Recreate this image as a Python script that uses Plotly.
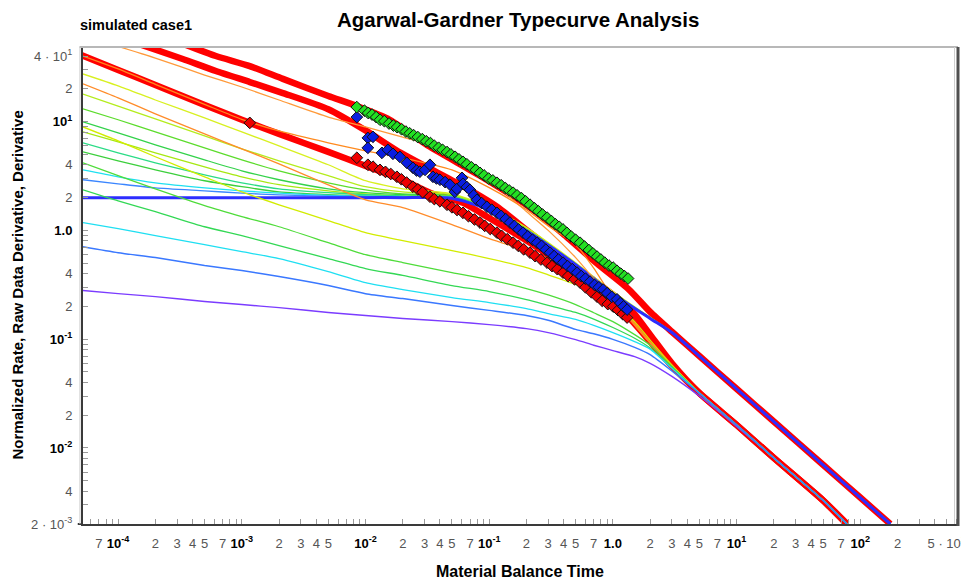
import math
import plotly.graph_objects as go

# ---------------- type-curve family 1 (rate curves, converge to lower harmonic line) -------------
t_f1 = [5.2e-5, 1e-4, 2e-4, 5e-4, 1e-3, 2e-3, 5e-3, 1e-2, 2e-2, 5e-2, 0.1, 0.2, 0.3, 0.5, 0.7, 1, 1.5, 2, 3, 5, 10, 20, 50, 78]
f1_purple = [0.280, 0.262, 0.246, 0.222, 0.208, 0.195, 0.176, 0.165, 0.155, 0.145, 0.136, 0.125, 0.115, 0.099, 0.088, 0.0785, 0.069, 0.060, 0.0455, 0.030, 0.0158, 0.0081, 0.0033, 0.002]
f1_blue = [0.708, 0.624, 0.562, 0.475, 0.427, 0.376, 0.311, 0.262, 0.236, 0.204, 0.184, 0.165, 0.149, 0.123, 0.112, 0.0995, 0.084, 0.072, 0.051, 0.0318, 0.0163, 0.0081, 0.0033, 0.002]
f1_cyan = [1.18, 1.04, 0.895, 0.74, 0.638, 0.551, 0.418, 0.331, 0.286, 0.241, 0.217, 0.191, 0.172, 0.152, 0.134, 0.115, 0.095, 0.081, 0.054, 0.032, 0.0163, 0.0081, 0.0033, 0.002]
f1_green2 = [2.36, 1.87, 1.49, 1.08, 0.895, 0.724, 0.551, 0.446, 0.385, 0.311, 0.274, 0.231, 0.205, 0.176, 0.153, 0.128, 0.102, 0.083, 0.055, 0.032, 0.0163, 0.0081, 0.0033, 0.002]
f1_green = [4.18, 3.18, 2.41, 1.69, 1.34, 1.08, 0.771, 0.598, 0.506, 0.409, 0.353, 0.292, 0.255, 0.208, 0.175, 0.145, 0.110, 0.088, 0.056, 0.032, 0.0163, 0.0081, 0.0033, 0.002]
f1_yellow = [8.93, 6.65, 4.75, 3.11, 2.26, 1.72, 1.23, 0.953, 0.805, 0.652, 0.551, 0.455, 0.39, 0.318, 0.265, 0.217, 0.145, 0.098, 0.058, 0.032, 0.0163, 0.0081, 0.0033, 0.002]
f1_orange = [22.2, 16.5, 11.8, 7.71, 5.62, 4.09, 2.62, 1.91, 1.62, 1.13, 0.839, 0.652, 0.55, 0.418, 0.33, 0.231, 0.14, 0.094, 0.057, 0.032, 0.0163, 0.0081, 0.0033, 0.002]
f1_orange_a = [40.1, 30.5, 22.0, 14.4, 10.5, 8.2, 6.38, 5.39, 4.65, 3.6, 2.47, 1.55, 1.1, 0.74, 0.45, 0.24, 0.135, 0.093, 0.057, 0.032, 0.0163, 0.0081, 0.0033, 0.002]
t_f1_top = [9.0e-5, 2e-4, 5e-4, 1e-3, 2e-3, 5e-3, 1e-2, 2e-2, 5e-2, 0.1, 0.2, 0.3, 0.5, 0.7, 1, 1.5, 2, 3, 5, 10, 20, 50, 78]
f1_orange_top = [51, 38.4, 26.8, 20.8, 15.8, 11.0, 8.93, 7.2, 5.27, 2.92, 1.49, 1.0, 0.562, 0.36, 0.225, 0.135, 0.092, 0.057, 0.032, 0.0163, 0.0081, 0.0033, 0.002]

# ---------------- type-curve family 2 (converge to 2, then to upper line) -------------
t_f2 = [5.2e-5, 1e-4, 2e-4, 5e-4, 1e-3, 2e-3, 5e-3, 1e-2, 2e-2, 5e-2, 0.1, 0.2, 0.5, 1, 2, 3, 5, 10, 20, 50, 100, 175]
f2_yellow = [27.4, 21.3, 15.8, 10.8, 8.04, 5.98, 4.01, 2.86, 2.41, 2.17, 1.65, 1.06, 0.505, 0.274, 0.158, 0.116, 0.070, 0.035, 0.0175, 0.007, 0.0035, 0.002]
f2_yellowgreen = [17.9, 13.9, 10.6, 7.39, 5.62, 4.36, 3.18, 2.52, 2.26, 2.13, 1.62, 1.04, 0.495, 0.268, 0.158, 0.116, 0.070, 0.035, 0.0175, 0.007, 0.0035, 0.002]
f2_green = [13.1, 10.4, 8.04, 5.74, 4.45, 3.53, 2.74, 2.36, 2.17, 2.08, 1.58, 1.02, 0.49, 0.266, 0.157, 0.116, 0.070, 0.035, 0.0175, 0.007, 0.0035, 0.002]
f2_green_b = [9.94, 7.88, 6.11, 4.45, 3.53, 2.92, 2.41, 2.22, 2.13, 2.06, 1.57, 1.01, 0.49, 0.265, 0.156, 0.116, 0.070, 0.035, 0.0175, 0.007, 0.0035, 0.002]
f2_lime = [8.04, 6.51, 5.16, 3.84, 3.11, 2.63, 2.31, 2.17, 2.08, 2.05, 1.57, 1.01, 0.488, 0.264, 0.156, 0.116, 0.070, 0.035, 0.0175, 0.007, 0.0035, 0.002]
f2_teal = [6.38, 5.16, 4.18, 3.24, 2.74, 2.41, 2.22, 2.13, 2.07, 2.04, 1.56, 1.0, 0.487, 0.263, 0.156, 0.115, 0.070, 0.035, 0.0175, 0.007, 0.0035, 0.002]
f2_green_c = [5.27, 4.36, 3.60, 2.86, 2.52, 2.26, 2.13, 2.07, 2.04, 2.03, 1.56, 1.0, 0.486, 0.263, 0.156, 0.115, 0.070, 0.035, 0.0175, 0.007, 0.0035, 0.002]
f2_cyan = [3.60, 3.11, 2.74, 2.46, 2.31, 2.20, 2.10, 2.06, 2.04, 2.02, 1.56, 1.0, 0.486, 0.263, 0.156, 0.115, 0.070, 0.035, 0.0175, 0.007, 0.0035, 0.002]
f2_blue = [2.92, 2.68, 2.46, 2.31, 2.20, 2.12, 2.06, 2.04, 2.02, 2.01, 1.55, 0.995, 0.485, 0.262, 0.155, 0.115, 0.070, 0.035, 0.0175, 0.007, 0.0035, 0.002]
f2_base = [2.0, 2.0, 2.0, 2.0, 2.0, 2.0, 2.0, 2.0, 2.0, 1.97, 1.55, 0.99, 0.484, 0.262, 0.155, 0.115, 0.070, 0.035, 0.0175, 0.007, 0.0035, 0.002]

# ---------------- fitted (thick red) curves -------------
red_a_t = [5.0e-5, 1e-4, 2e-4, 5e-4, 1e-3, 1.16e-3, 2e-3, 5e-3, 1e-2, 2e-2, 0.0332, 0.0614, 0.1, 0.214, 0.4, 0.745, 1.3, 2, 3, 5, 10, 20, 50, 78]
red_a_q = [41, 29.8, 21.7, 14.2, 10.4, 9.73, 7.71, 5.27, 3.92, 2.92, 2.22, 1.79, 1.3, 0.77, 0.47, 0.285, 0.165, 0.095, 0.057, 0.032, 0.0163, 0.0081, 0.0033, 0.002]
red_b_t = [1.53e-4, 3.33e-4, 6.17e-4, 1.16e-3, 2.15e-3, 5e-3, 1e-2, 0.018, 0.0332, 0.0614, 0.1156, 0.214, 0.395, 0.745, 1.35, 2.0, 3.0, 5, 10, 20, 50, 78]
red_b_q = [51, 37.6, 29.2, 23.1, 18.3, 13.0, 8.3, 5.4, 3.7, 2.55, 1.65, 0.95, 0.56, 0.33, 0.195, 0.11, 0.06, 0.032, 0.0163, 0.0081, 0.0033, 0.002]
red_c_t = [3.5e-4, 6.17e-4, 1.16e-3, 2.15e-3, 5e-3, 8.51e-3, 0.0157, 0.0332, 0.0843, 0.214, 0.395, 0.745, 1.35, 2.0, 3.0, 5, 10, 20, 50, 100, 175]
red_c_q = [51, 40.1, 32.4, 24.7, 17.2, 13.9, 10.4, 5.86, 3.18, 1.62, 0.933, 0.495, 0.286, 0.178, 0.117, 0.070, 0.035, 0.0175, 0.007, 0.0035, 0.002]

# ---------------- measured data -------------
rate_t = [0.0085, 0.0098, 0.0105, 0.0113, 0.0122, 0.0131, 0.0142, 0.0155, 0.0168, 0.018, 0.0196, 0.0212, 0.0228, 0.0245,
          0.0265, 0.0288, 0.031, 0.0335, 0.036, 0.039, 0.042, 0.0456, 0.049, 0.053, 0.057, 0.0614, 0.066, 0.072, 0.078,
          0.0843, 0.091, 0.099, 0.107, 0.1156, 0.125, 0.135, 0.145, 0.156, 0.168, 0.182, 0.197, 0.214, 0.232, 0.25, 0.27,
          0.294, 0.318, 0.343, 0.368, 0.395, 0.425, 0.46, 0.5, 0.543, 0.59, 0.64, 0.69, 0.745, 0.8, 0.86, 0.93, 1.005,
          1.08, 1.16, 1.24, 1.327]
rate_q = [13.6, 12.6, 12.0, 11.6, 11.0, 10.4, 10.1, 9.6, 9.2, 8.9, 8.5, 8.1, 7.8, 7.5,
          7.2, 6.9, 6.6, 6.35, 6.0, 5.75, 5.5, 5.25, 5.0, 4.75, 4.5, 4.27, 4.05, 3.8, 3.6,
          3.38, 3.2, 3.0, 2.88, 2.74, 2.6, 2.45, 2.33, 2.22, 2.1, 1.98, 1.85, 1.72, 1.6, 1.5, 1.4,
          1.31, 1.22, 1.14, 1.08, 1.02, 0.95, 0.88, 0.82, 0.77, 0.71, 0.66, 0.615, 0.574, 0.54, 0.505, 0.475, 0.455,
          0.425, 0.40, 0.38, 0.361]

integral_t = [0.00851, 0.01045, 0.01148, 0.01045, 0.01358, 0.01517, 0.01667, 0.01897, 0.0216, 0.0242, 0.0259, 0.0275,
              0.0303, 0.0332, 0.0351, 0.0375, 0.040, 0.044, 0.0482, 0.0528, 0.0548, 0.0603, 0.0614, 0.066, 0.070,
              0.075, 0.0796, 0.087, 0.0959, 0.105, 0.1156, 0.125, 0.136, 0.1472, 0.16, 0.173, 0.1875, 0.205, 0.224,
              0.2438, 0.265, 0.287, 0.3105, 0.335, 0.363, 0.3954, 0.43, 0.47, 0.5129, 0.555, 0.60, 0.6546, 0.71,
              0.77, 0.8337, 0.9, 0.98, 1.081, 1.15, 1.22, 1.303]
integral_q = [11.0, 7.08, 7.24, 5.74, 5.16, 5.50, 5.06, 4.74, 4.18, 3.76, 3.55, 3.46,
              3.60, 4.01, 3.11, 3.0, 2.92, 2.78, 2.63, 2.26, 2.41, 3.04, 2.68, 2.5, 2.36,
              2.1, 1.91, 1.78, 1.65, 1.55, 1.45, 1.36, 1.27, 1.18, 1.1, 1.02, 0.953, 0.88, 0.82,
              0.771, 0.72, 0.665, 0.624, 0.58, 0.54, 0.505, 0.47, 0.44, 0.409, 0.38, 0.36, 0.338, 0.315,
              0.30, 0.286, 0.265, 0.245, 0.232, 0.215, 0.20, 0.187]

deriv_t = [0.00116, 0.00851, 0.01045, 0.0115, 0.0131, 0.0145, 0.016, 0.01795, 0.0195, 0.0215, 0.02415, 0.0265, 0.029,
           0.0332, 0.036, 0.040, 0.0456, 0.050, 0.055, 0.0614, 0.068, 0.076, 0.0843, 0.092, 0.102, 0.1156, 0.126,
           0.14, 0.156, 0.172, 0.19, 0.2138, 0.235, 0.262, 0.2938, 0.322, 0.356, 0.3954, 0.435, 0.49, 0.5433, 0.60,
           0.67, 0.7447, 0.82, 0.91, 1.005, 1.1, 1.2, 1.303]
deriv_q = [9.73, 4.65, 4.01, 3.85, 3.60, 3.45, 3.3, 3.11, 2.95, 2.75, 2.52, 2.38, 2.24,
           2.04, 1.94, 1.85, 1.72, 1.63, 1.54, 1.45, 1.35, 1.26, 1.18, 1.1, 1.03, 0.953, 0.89,
           0.83, 0.771, 0.72, 0.67, 0.624, 0.58, 0.54, 0.505, 0.47, 0.44, 0.409, 0.38, 0.355, 0.331, 0.30,
           0.27, 0.246, 0.225, 0.21, 0.1995, 0.185, 0.17, 0.158]

# ---------------- axis ticks -------------
def dec(e):
    return '<span style="color:#000"><b>10<sup>' + e + '</sup></b></span>'

x_tick_vals = [7e-5, 1e-4, 2e-4, 3e-4, 4e-4, 5e-4, 7e-4, 1e-3, 2e-3, 3e-3, 4e-3, 5e-3, 1e-2, 2e-2, 3e-2, 4e-2, 5e-2,
               7e-2, 0.1, 0.2, 0.3, 0.4, 0.5, 0.7, 1, 2, 3, 4, 5, 7, 10, 20, 30, 40, 50, 70, 100, 200, 500]
x_tick_text = ["7", dec("-4"), "2", "3", "4", "5", "7", dec("-3"), "2", "3", "4", "5", dec("-2"), "2", "3", "4", "5",
               "7", dec("-1"), "2", "3", "4", "5", "7", '<span style="color:#000"><b>1.0</b></span>', "2", "3", "4",
               "5", "7", dec("1"), "2", "3", "4", "5", "7", dec("2"), "2", "5 · 10<sup>2</sup>"]
x_minor_vals = [6e-5, 8e-5, 9e-5, 6e-4, 8e-4, 9e-4, 6e-3, 7e-3, 8e-3, 9e-3, 6e-2, 8e-2, 9e-2, 0.6, 0.8, 0.9,
                6, 8, 9, 60, 80, 90, 300, 400, 600]

y_tick_vals = [0.002, 0.004, 0.01, 0.02, 0.04, 0.1, 0.2, 0.4, 1, 2, 4, 10, 20, 40]
y_tick_text = ["2 · 10<sup>-3</sup>", "4", dec("-2"), "2", "4", dec("-1"), "2", "4",
               '<span style="color:#000"><b>1.0</b></span>', "2", "4", dec("1"), "2", "4 · 10<sup>1</sup>"]
y_minor_vals = [0.003, 0.005, 0.006, 0.007, 0.008, 0.009, 0.03, 0.05, 0.06, 0.07, 0.08, 0.09,
                0.3, 0.5, 0.6, 0.7, 0.8, 0.9, 3, 5, 6, 7, 8, 9, 30]

FONT = "Liberation Sans, Arial, sans-serif"
fig = go.Figure()


def add_line(t, q, color, width, smoothing=0.6):
    fig.add_trace(go.Scatter(x=t, y=q, mode="lines", hoverinfo="skip", showlegend=False,
                             line=dict(color=color, width=width, shape="spline", smoothing=smoothing)))


# thick red fits (bottom layer)
add_line(red_a_t, red_a_q, "#ff0000", 6.5)
add_line(red_b_t, red_b_q, "#ff0000", 6.5)
add_line(red_c_t, red_c_q, "#ff0000", 6.5)

# family 2
for q, c in [(f2_yellow, "#d8f020"), (f2_yellowgreen, "#b4ec1c"), (f2_green, "#5cdc2c"),
             (f2_green_b, "#33d24a"), (f2_lime, "#a6e812"), (f2_teal, "#2bdc86"),
             (f2_green_c, "#3ccf3c"), (f2_cyan, "#1ee0f0"), (f2_blue, "#3b86ff")]:
    add_line(t_f2, q, c, 1.3)
add_line(t_f2, f2_base, "#2d2dff", 3.0)

# family 1
add_line(t_f1, f1_purple, "#7b3cff", 1.4)
add_line(t_f1_top, f1_orange_top, "#ff9a3a", 1.3)
add_line(t_f1, f1_orange_a, "#ff8a1e", 1.3)
add_line(t_f1, f1_orange, "#ff8c2a", 1.3)
add_line(t_f1, f1_yellow, "#d2ec00", 1.3)
add_line(t_f1, f1_green, "#4fdc3a", 1.3)
add_line(t_f1, f1_green2, "#33d855", 1.3)
add_line(t_f1, f1_cyan, "#1fdff2", 1.3)
add_line(t_f1, f1_blue, "#3a78ff", 1.5)

# measured data
mk = dict(symbol="diamond", size=9, line=dict(color="#111111", width=1))
fig.add_trace(go.Scatter(x=deriv_t, y=deriv_q, mode="markers", showlegend=False, hoverinfo="skip",
                         marker=dict(color="#ee0000", **mk)))
fig.add_trace(go.Scatter(x=integral_t, y=integral_q, mode="markers", showlegend=False, hoverinfo="skip",
                         marker=dict(color="#0a1ee0", **mk)))
fig.add_trace(go.Scatter(x=rate_t, y=rate_q, mode="markers", showlegend=False, hoverinfo="skip",
                         marker=dict(color="#22e022", **mk)))

common_axis = dict(type="log", automargin=False, tickmode="array",
                   ticks="inside", ticklen=5, tickcolor="#9a9a9a", tickwidth=1,
                   showgrid=False, zeroline=False, showline=True, linecolor="#3a3a3a", linewidth=2,
                   tickfont=dict(family=FONT, size=13, color="#555555"), ticklabelstandoff=6)

fig.update_xaxes(range=[math.log10(5.2e-5), math.log10(617)], tickvals=x_tick_vals, ticktext=x_tick_text,
                 minor=dict(tickmode="array", tickvals=x_minor_vals, ticks="inside", ticklen=5,
                            tickcolor="#9a9a9a", tickwidth=1, showgrid=False),
                 **common_axis)
fig.update_yaxes(range=[math.log10(0.002), math.log10(48.5)], tickvals=y_tick_vals, ticktext=y_tick_text,
                 minor=dict(tickmode="array", tickvals=y_minor_vals, ticks="inside", ticklen=5,
                            tickcolor="#9a9a9a", tickwidth=1, showgrid=False),
                 **common_axis)

# the page body has an 8 px margin, so the figure is sized to fill the rest of the window
fig.update_layout(
    width=961, height=571,
    margin=dict(l=75, r=11, t=39, b=55),
    paper_bgcolor="white", plot_bgcolor="white",
    showlegend=False,
    shapes=[
        dict(type="line", xref="paper", yref="paper", x0=-0.004, x1=1.0, y0=1, y1=1,
             line=dict(color="#b8b8b8", width=2)),
        dict(type="line", xref="paper", yref="paper", x0=1.0, x1=1.0, y0=-0.004, y1=1.0,
             line=dict(color="#505050", width=3)),
        dict(type="line", xref="paper", yref="paper", x0=0.996, x1=0.996, y0=0.0, y1=1.0,
             line=dict(color="#cfcfcf", width=1)),
        dict(type="line", xref="paper", yref="paper", x0=-0.006, x1=0.0, y0=0, y1=0,
             line=dict(color="#3a3a3a", width=2)),
        dict(type="line", xref="paper", yref="paper", x0=-0.0035, x1=-0.0035, y0=0, y1=1,
             line=dict(color="#cccccc", width=1)),
    ],
    annotations=[
        dict(text="<b>Agarwal-Gardner Typecurve Analysis</b>", xref="paper", yref="paper",
             x=0.497, y=1.058, xanchor="center", yanchor="middle", showarrow=False,
             font=dict(family=FONT, size=20.5, color="#000")),
        dict(text="<b>simulated case1</b>", xref="paper", yref="paper",
             x=-0.0057, y=1.046, xanchor="left", yanchor="middle", showarrow=False,
             font=dict(family=FONT, size=14.5, color="#000")),
        dict(text="<b>Material Balance Time</b>", xref="paper", yref="paper",
             x=0.4994, y=-0.1006, xanchor="center", yanchor="middle", showarrow=False,
             font=dict(family=FONT, size=16, color="#000")),
        dict(text="<b>Normalized Rate, Raw Data Derivative, Derivative</b>", xref="paper", yref="paper",
             x=-0.0743, y=0.502, xanchor="center", yanchor="middle", showarrow=False, textangle=-90,
             font=dict(family=FONT, size=15, color="#000")),
    ],
)

fig.write_html("out.html")
